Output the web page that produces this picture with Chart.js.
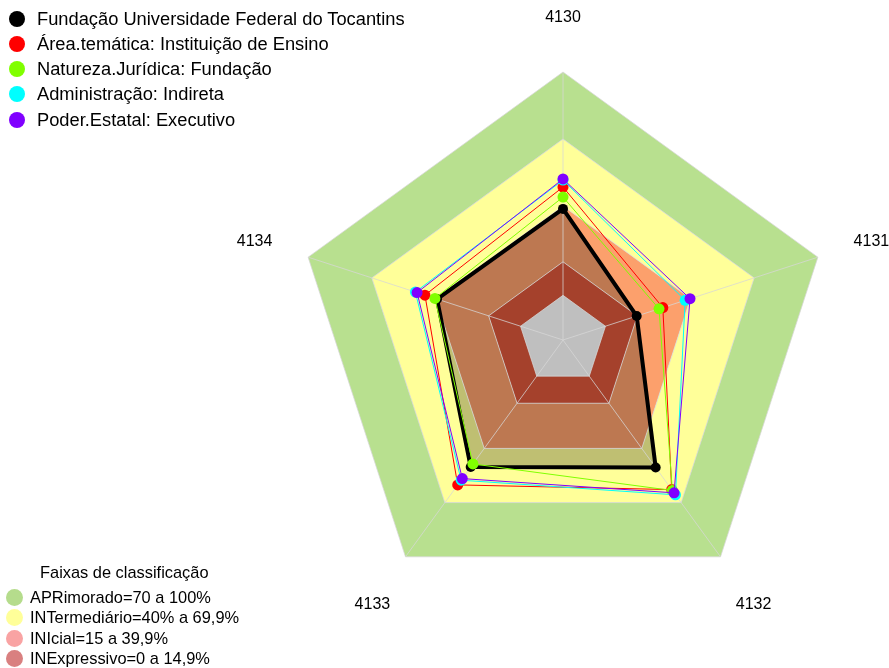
<!DOCTYPE html>
<html>
<head>
<meta charset="utf-8">
<script src="https://cdn.jsdelivr.net/npm/chart.js@4.4.1/dist/chart.umd.min.js"></script>
<style>
  body { margin: 0; background: #fff; font-family: 'Liberation Sans', Arial, sans-serif; }
  #wrap { position: absolute; left: 0; top: 0; width: 889px; height: 668px; }
  .legend { position: absolute; color: #000; }
  .legend .row { position: relative; white-space: nowrap; }
  .legend .dot { position: absolute; border-radius: 50%; }
  #series { left: 0; top: 5.5px; font-size: 18.3px; }
  #series .row { height: 25.3px; line-height: 25.3px; padding-left: 37px; }
  #series .dot { left: 9px; top: 5px; width: 16px; height: 16px; }
  #bands { left: 0; top: 561px; font-size: 16.4px; }
  #bands .title { position: relative; left: 40px; height: 26px; line-height: 22px; }
  #bands .row { height: 20.4px; line-height: 20.4px; padding-left: 30px; }
  #bands .dot { left: 6px; top: 2px; width: 17px; height: 17px; }
</style>
</head>
<body>
<div id="wrap"><canvas id="radar"></canvas></div>
<div class="legend" id="series"></div>
<div class="legend" id="bands"><div class="title">Faixas de classificação</div></div>
<script>
const axisLabels = ['4130', '4131', '4132', '4133', '4134'];

const seriesNames = [
  'Fundação Universidade Federal do Tocantins',
  'Área.temática: Instituição de Ensino',
  'Natureza.Jurídica: Fundação',
  'Administração: Indireta',
  'Poder.Estatal: Executivo'
];
const seriesColors = ['#000000', '#ff0000', '#80ff00', '#00ffff', '#8000ff'];

const fundacao = [38.7, 14.7, 50.6, 50.3, 39.3];
const areaTematica = [48.5, 27.0, 62.8, 60.2, 45.0];
const natureza = [44.0, 25.2, 63.3, 48.6, 40.3];
const administracao = [51.6, 37.5, 65.7, 57.6, 49.5];
const poderEstatal = [52.1, 39.8, 64.6, 56.7, 48.7];
const seriesValues = [fundacao, areaTematica, natureza, administracao, poderEstatal];

// classification bands (outer to inner)
const bandNames = ['APRimorado=70 a 100%', 'INTermediário=40% a 69,9%', 'INIcial=15 a 39,9%', 'INExpressivo=0 a 14,9%'];
const bandTop = [100, 70, 40, 15];
const bandBottom = [70, 40, 15, 0];
const bandFill = ['#b8e08f', '#ffff99', '#fca06c', '#dc573b'];
const bandKey = ['#b5dc8c', '#ffff99', '#f9a3a3', '#d98080'];

const gridValues = [0, 15, 40, 70, 100];
const scaleMin = -20, scaleMax = 100;

const datasets = [];

bandTop.forEach((top, i) => {
  datasets.push({
    label: bandNames[i],
    data: axisLabels.map(() => top),
    fill: { value: bandBottom[i] },
    backgroundColor: bandFill[i],
    borderColor: 'transparent',
    borderWidth: 0,
    pointRadius: 0,
    order: 20 + i
  });
});

seriesValues.forEach((vals, i) => {
  const isMain = i === 0;
  datasets.push({
    label: seriesNames[i],
    data: vals,
    fill: isMain ? 'start' : false,
    backgroundColor: isMain ? 'rgba(0,0,0,0.25)' : seriesColors[i],
    borderColor: seriesColors[i],
    borderWidth: isMain ? 4 : 1,
    pointRadius: isMain ? 5 : 5.5,
    pointBorderWidth: 0,
    pointBackgroundColor: seriesColors[i],
    order: 10 - i
  });
});

const axisNames = {
  id: 'axisNames',
  afterDraw(chart) {
    const s = chart.scales.r;
    const ctx = chart.ctx;
    ctx.save();
    ctx.font = "16px 'Liberation Sans', Arial, sans-serif";
    ctx.fillStyle = '#000';
    ctx.textAlign = 'center';
    ctx.textBaseline = 'middle';
    axisLabels.forEach((lab, i) => {
      const p = s.getPointPosition(i, s.drawingArea * 1.21);
      ctx.fillText(lab, p.x, p.y + 2);
    });
    ctx.restore();
  }
};

new Chart(document.getElementById('radar'), {
  type: 'radar',
  data: { labels: axisLabels, datasets: datasets },
  options: {
    responsive: true,
    maintainAspectRatio: false,
    animation: false,
    events: [],
    layout: { padding: { left: 295, right: 58, top: 72, bottom: 60 } },
    elements: { line: { tension: 0 } },
    plugins: {
      legend: { display: false },
      tooltip: { enabled: false },
      filler: { drawTime: 'beforeDraw', propagate: false }
    },
    scales: {
      r: {
        min: scaleMin,
        max: scaleMax,
        afterBuildTicks: (scale) => { scale.ticks = gridValues.map(v => ({ value: v })); },
        ticks: { display: false },
        pointLabels: { display: false },
        grid: { color: 'rgba(215,215,215,0.75)', lineWidth: 1 },
        angleLines: { color: 'rgba(215,215,215,0.75)', lineWidth: 1 }
      }
    }
  },
  plugins: [axisNames]
});

// legends
const serDiv = document.getElementById('series');
seriesNames.forEach((name, i) => {
  const row = document.createElement('div');
  row.className = 'row';
  row.innerHTML = '<span class="dot" style="background:' + seriesColors[i] + '"></span>' + name;
  serDiv.appendChild(row);
});
const bandDiv = document.getElementById('bands');
bandNames.forEach((name, i) => {
  const row = document.createElement('div');
  row.className = 'row';
  row.innerHTML = '<span class="dot" style="background:' + bandKey[i] + '"></span>' + name;
  bandDiv.appendChild(row);
});
</script>
</body>
</html>
